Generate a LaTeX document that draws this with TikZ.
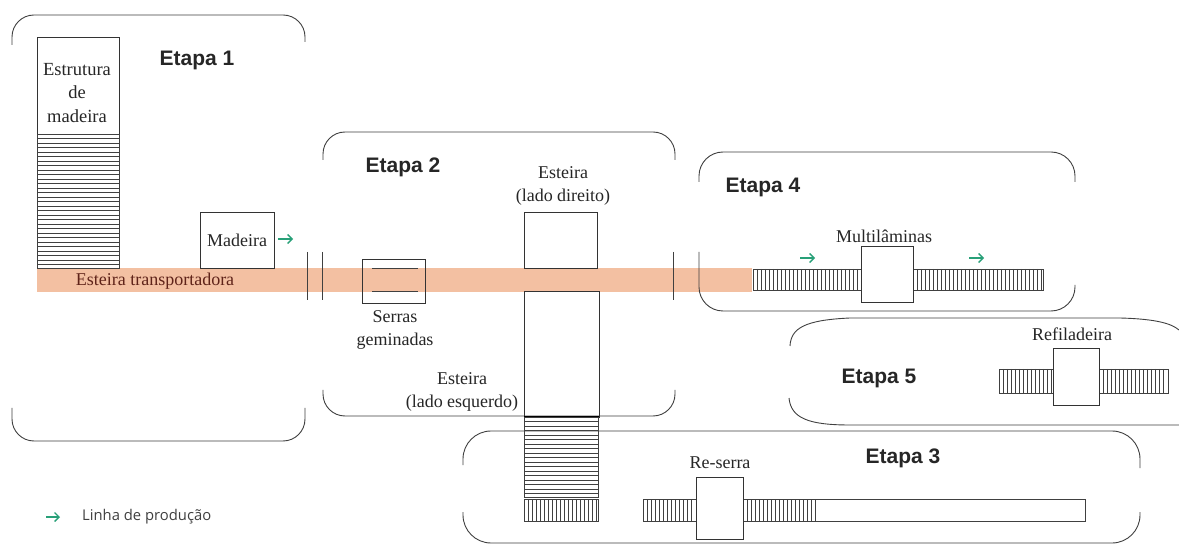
\documentclass[tikz,border=0pt]{standalone}
\usepackage{fontspec}
\setmainfont{Liberation Serif}
\newfontfamily\etapafont{Liberation Sans}
\newfontfamily\legfont{Open Sans}
\usetikzlibrary{arrows.meta}
\definecolor{belt}{RGB}{243,192,162}
\definecolor{flowgreen}{RGB}{40,160,120}
\definecolor{belttext}{RGB}{95,35,25}
\tikzset{
  frame/.style={draw=black!75, line width=0.9pt},
  box/.style={draw=black!80, line width=0.8pt, inner sep=0pt},
  lbl/.style={font=\fontsize{18}{23.5}\selectfont, text=black!85, align=center, inner sep=0pt},
  etapa/.style={font=\etapafont\bfseries\fontsize{21}{24}\selectfont, text=black!85, inner sep=0pt},
  flow/.style={-{Straight Barb[length=4.5pt,width=9pt,line width=1.4pt]}, draw=flowgreen, line width=1.4pt},
  hatch/.style={draw=black!75, line width=0.6pt},
  tick/.style={draw=black!75, line width=0.9pt},
}
\newcommand{\myvhatch}[4]{%
  \draw[hatch] (#1,#2) rectangle (#3,#4);
  \pgfmathtruncatemacro\nlines{(#3-#1)/4-0.5}%
  \foreach \i in {1,...,\nlines} \draw[hatch] (#1+\i*4,#2) -- (#1+\i*4,#4);
}
\newcommand{\myhhatch}[4]{%
  \draw[hatch] (#1,#2) rectangle (#3,#4);
  \pgfmathtruncatemacro\nlines{(#4-#2)/4.5-0.5}%
  \foreach \i in {1,...,\nlines} \draw[hatch] (#1,#2+\i*4.5) -- (#3,#2+\i*4.5);
}
\begin{document}
\begin{tikzpicture}[x=1pt,y=-1pt]
\useasboundingbox (0,0) rectangle (1179,545);
\fill[white] (0,0) rectangle (1179,545);

% conveyor belt
\fill[belt] (37,268) rectangle (752,292);
\node[font=\fontsize{18}{20}\selectfont, text=belttext, inner sep=0pt] (belttxt) at (155,281) {Esteira transportadora};

% ---------- Etapa 1 ----------
\draw[frame, rounded corners=22] (12,45) -- (12,15) -- (305,15) -- (305,42);
\draw[frame, rounded corners=22] (12,408) -- (12,441) -- (305,441) -- (305,408);
\node[etapa] (e1) at (197,60) {Etapa 1};
\node[box, minimum width=82pt, minimum height=97pt] (estr) at (78,85.5) {};
\node[lbl, font=\fontsize{18.5}{23.5}\selectfont] (estrtxt) at (77,93) {Estrutura\\de\\madeira};
\myhhatch{37}{134}{119}{268}
\node[box, minimum width=74pt, minimum height=56pt] (mad) at (237,240) {};
\node[lbl] (madtxt) at (237,240) {Madeira};
\coordinate (a1s) at (278,239);
\coordinate (a1e) at (293,239);
\draw[flow] (a1s) -- (a1e);
\draw[tick] (307,252) -- (307,300);

% ---------- Etapa 2 ----------
\draw[frame, rounded corners=22] (323,160) -- (323,132) -- (675,132) -- (675,160);
\draw[frame, rounded corners=22] (323,390) -- (323,416) -- (675,416) -- (675,390);
\draw[tick] (322,252) -- (322,300);
\draw[tick] (673,252) -- (673,300);
\node[etapa] (e2) at (403,167) {Etapa 2};
\node[box, minimum width=63pt, minimum height=44pt] (serras) at (393.5,281) {};
\draw[hatch, line width=0.8pt] (372,268) -- (418,268);
\draw[hatch, line width=0.8pt] (372,291) -- (418,291);
\node[lbl] (serrastxt) at (395,330) {Serras\\geminadas};
\node[box, minimum width=73pt, minimum height=56pt] (dir) at (560.5,240) {};
\node[lbl] (dirtxt) at (563,186) {Esteira\\(lado direito)};
\node[box, minimum width=75pt, minimum height=126pt] (esq) at (561.5,354) {};
\node[lbl] (esqtxt) at (462,392) {Esteira\\(lado esquerdo)};
\draw[black, line width=1.8pt] (524,417) -- (599,417);

% ---------- Etapa 4 ----------
\draw[frame, rounded corners=24] (699,182) -- (699,152) -- (1075,152) -- (1075,182);
\draw[frame, rounded corners=24] (699,252) -- (699,311) -- (1075,311) -- (1075,285);
\node[etapa] (e4) at (763,187) {Etapa 4};
\myvhatch{753}{269}{861}{290}
\myvhatch{913}{269}{1043}{290}
\node[box, fill=white, minimum width=52pt, minimum height=56pt] (multi) at (887,274) {};
\node[lbl] (multitxt) at (884,236) {Multilâminas};
\coordinate (a2s) at (800,258);
\coordinate (a2e) at (815,258);
\draw[flow] (a2s) -- (a2e);
\coordinate (a3s) at (969,258);
\coordinate (a3e) at (984,258);
\draw[flow] (a3s) -- (a3e);

% ---------- Etapa 5 ----------
\draw[frame] (790,346) .. controls (791,328) and (805,320) .. (850,318) -- (1120,318)
  .. controls (1158,319) and (1172,324) .. (1179,330);
\draw[frame] (789,398) .. controls (791,418) and (808,425) .. (850,425) -- (1179,425);
\node[etapa] (e5) at (879,378) {Etapa 5};
\myvhatch{999}{369}{1053}{393}
\myvhatch{1099}{369}{1168}{393}
\node[box, fill=white, minimum width=46pt, minimum height=57pt] (refil) at (1076,376.5) {};
\node[lbl] (refiltxt) at (1072,334) {Refiladeira};

% ---------- Etapa 3 ----------
\myhhatch{524}{417}{598}{497}
\myvhatch{524}{499}{598}{521}
\draw[frame, rounded corners=28] (463,465) -- (463,431) -- (1140,431) -- (1140,468);
\draw[frame, rounded corners=28] (463,512) -- (463,543) -- (1140,543) -- (1140,512);
\node[etapa] (e3) at (903,458) {Etapa 3};
\myvhatch{643}{499}{696}{521}
\myvhatch{743}{499}{815}{521}
\draw[hatch, line width=0.8pt] (815,499) rectangle (1085,521);
\node[box, fill=white, minimum width=47pt, minimum height=62pt] (reserra) at (719.5,508) {};
\node[lbl] (reserratxt) at (720,463) {Re-serra};

% ---------- legend ----------
\coordinate (l1s) at (46,517);
\coordinate (l1e) at (60,517);
\draw[flow] (l1s) -- (l1e);
\node[font=\legfont\fontsize{14.8}{16}\selectfont, text=black!75, anchor=west, inner sep=0pt] (leg) at (82,517) {Linha de produção};
\end{tikzpicture}
\end{document}
